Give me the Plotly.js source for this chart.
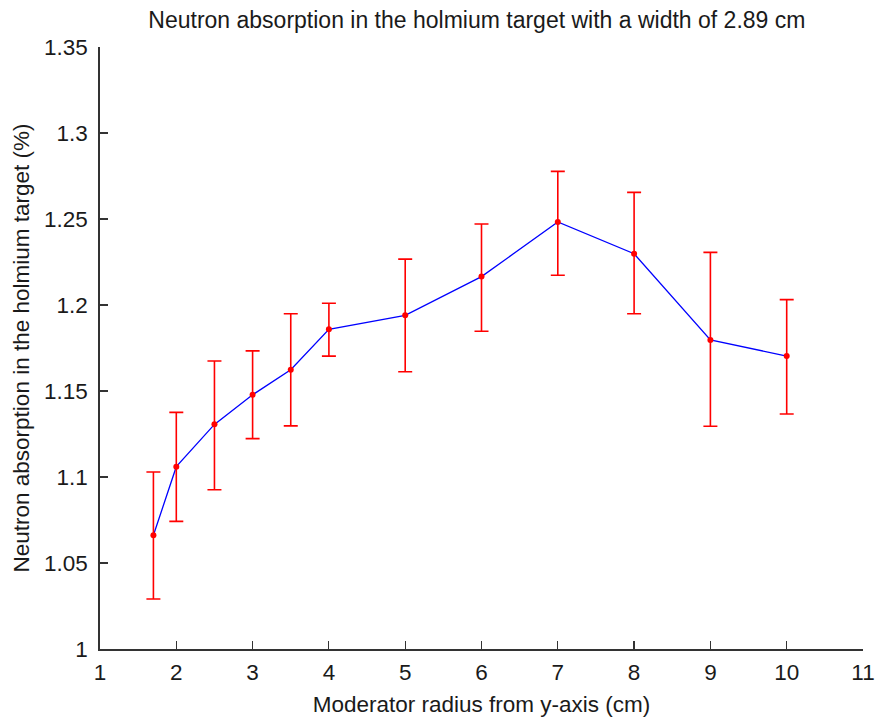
<!DOCTYPE html>
<html>
<head>
<meta charset="utf-8">
<script src="https://cdn.plot.ly/plotly-3.0.1.min.js"></script>
<style>html,body{margin:0;padding:0;background:#fff;}#chart{width:875px;height:717px;}</style>
</head>
<body>
<div id="chart"></div>
<script>
const radius = [1.7, 2, 2.5, 3, 3.5, 4, 5, 6, 7, 8, 9, 10];
const absorption = [1.0661, 1.1060, 1.1306, 1.1478, 1.1624, 1.1859, 1.1940, 1.2165, 1.2483, 1.2298, 1.1797, 1.1703];
const errUpper = [1.1029, 1.1376, 1.1674, 1.1733, 1.1949, 1.2010, 1.2267, 1.2471, 1.2777, 1.2655, 1.2306, 1.2031];
const errLower = [1.0291, 1.0742, 1.0926, 1.1223, 1.1297, 1.1703, 1.1612, 1.1847, 1.2173, 1.1949, 1.1295, 1.1366];
const xTicks = [1, 2, 3, 4, 5, 6, 7, 8, 9, 10, 11];
const yTicks = [1, 1.05, 1.1, 1.15, 1.2, 1.25, 1.3, 1.35];
const yTickText = ['1', '1.05', '1.1', '1.15', '1.2', '1.25', '1.3', '1.35'];

const plus = errUpper.map((u, i) => u - absorption[i]);
const minus = errLower.map((l, i) => absorption[i] - l);

const font = 'Liberation Sans, Arial, sans-serif';
const fs = 22.5;
const tc = '#1a1a1a';
const traces = [
  {x: radius, y: absorption, type: 'scatter', mode: 'lines',
   line: {color: '#0000ff', width: 1.3}, hoverinfo: 'skip', showlegend: false},
  {x: radius, y: absorption, type: 'scatter', mode: 'markers',
   marker: {color: '#ff0000', size: 6},
   error_y: {type: 'data', symmetric: false, array: plus, arrayminus: minus,
             color: '#ff0000', thickness: 1.6, width: 7},
   showlegend: false}
];
const layout = {
  width: 875, height: 717,
  margin: {l: 100, r: 12, t: 47, b: 68},
  paper_bgcolor: '#ffffff', plot_bgcolor: '#ffffff',
  font: {family: font, color: tc, size: fs},
  title: {text: 'Neutron absorption in the holmium target with a width of 2.89 cm',
          x: 0.545, xanchor: 'center', y: 0.972, yanchor: 'middle',
          font: {family: font, size: 23, color: tc}},
  xaxis: {range: [1, 11], tickvals: xTicks, ticktext: xTicks.map(String),
          ticks: 'inside', ticklen: 8, tickcolor: '#333', tickwidth: 1.2,
          showline: true, linecolor: '#333', linewidth: 1.8, mirror: false,
          showgrid: false, zeroline: false, ticklabelstandoff: 2,
          tickfont: {family: font, size: fs, color: tc},
          title: {text: 'Moderator radius from y-axis (cm)', standoff: 12,
                  font: {family: font, size: fs, color: tc}}},
  yaxis: {range: [1, 1.35], tickvals: yTicks, ticktext: yTickText,
          ticks: 'inside', ticklen: 8, tickcolor: '#333', tickwidth: 1.2,
          showline: true, linecolor: '#333', linewidth: 1.8, mirror: false,
          showgrid: false, zeroline: false, ticklabelstandoff: 6,
          tickfont: {family: font, size: fs, color: tc},
          title: {text: 'Neutron absorption in the holmium target (%)', standoff: 8,
                  font: {family: font, size: fs, color: tc}}}
};
Plotly.newPlot('chart', traces, layout, {displayModeBar: false, staticPlot: true});
</script>
</body>
</html>
